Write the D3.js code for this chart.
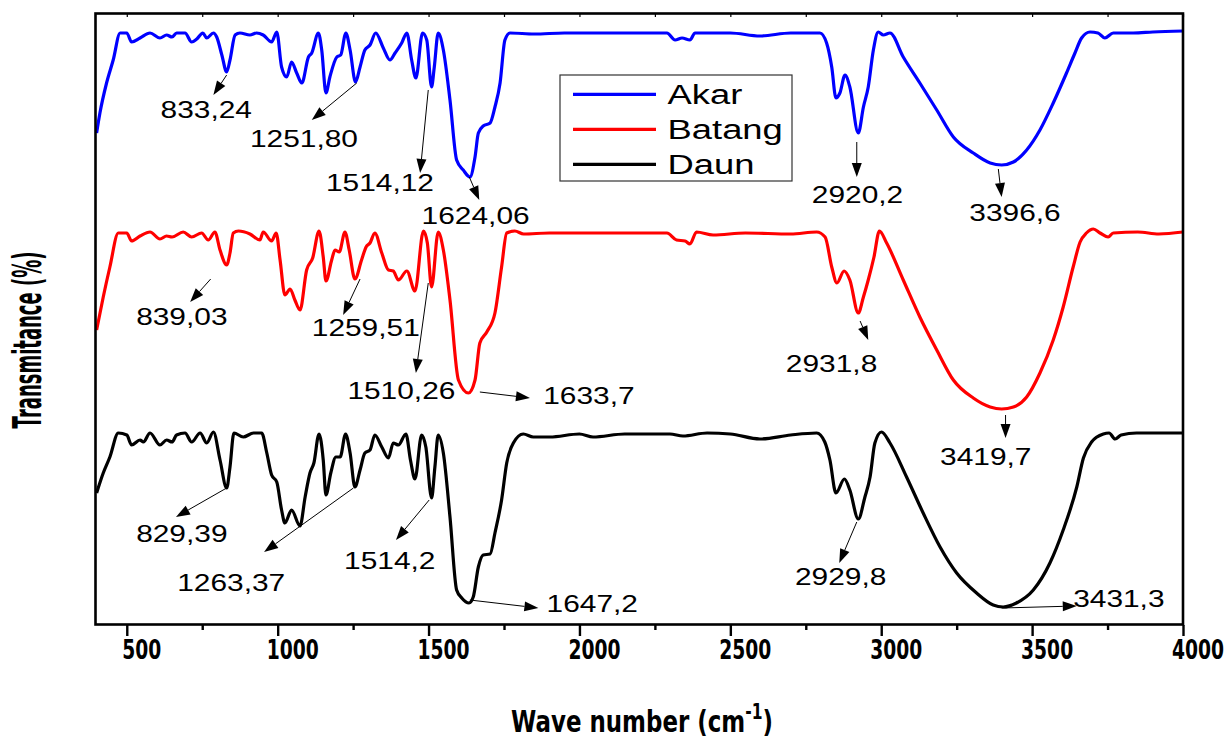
<!DOCTYPE html>
<html>
<head>
<meta charset="utf-8">
<script src="https://cdn.jsdelivr.net/npm/d3@7"></script>
<style>
  body { margin: 0; background: #fff; }
  svg { display: block; }
</style>
</head>
<body>
<script>
// spectra: [wave number, transmitance]
let akar = [[400,44],[411,54],[433,69],[455,80.5],[478,94],[500,94],[516,89.5],[544,91.5],[577,94],[610,91.5],[632,93],[650,92],[665,94],[693,94],[715,89.5],[732,91],[752,94],[765,91.5],[787,94],[798,92],[815,83],[831,74.5],[842,80.5],[859,93],[875,94],[908,93],[930,94],[952,93],[980,89.5],[997,94.5],[1013,77],[1030,72],[1046,79.5],[1063,74],[1080,69],[1102,82],[1113,84],[1135,94],[1146,85.5],[1160,64],[1173,72],[1196,82],[1209,83],[1226,94],[1240,85.5],[1258,69.5],[1273,77],[1289,85.5],[1306,88],[1325,94],[1350,86.5],[1372,80.5],[1389,84],[1411,89],[1428,94],[1444,80.5],[1458,71.5],[1480,94],[1494,90.5],[1510,67],[1519,77],[1532,94],[1549,85.5],[1571,60.5],[1593,30.5],[1615,25.5],[1637,22],[1654,32],[1665,44],[1681,47.5],[1704,49],[1720,57],[1737,69],[1753,90.5],[1770,94],[1850,93.5],[1950,94],[2100,94],[2290,94],[2317,90.5],[2340,91.5],[2366,90.5],[2383,94],[2500,94],[2598,92.5],[2700,94],[2797,94],[2819,89],[2836,77],[2850,61.5],[2863,64],[2880,73],[2896,67],[2924,44],[2941,57],[2957,67],[2974,85.5],[2990,94.5],[3007,93],[3029,94],[3073,82],[3128,69],[3184,55.5],[3239,42],[3305,34],[3361,29],[3399,28],[3438,29.5],[3482,35.5],[3526,45.5],[3570,59],[3614,74],[3642,84],[3664,91.5],[3692,94.5],[3718,94],[3741,91.5],[3769,94],[3835,94],[3900,94.5],[4000,95]];

let batang = [[400,46.5],[422,63],[444,78],[472,95],[500,95],[516,91],[544,93.5],[577,95.5],[610,92],[632,93.5],[650,93],[687,95.5],[715,93],[748,95],[770,91.5],[792,95.5],[809,86.5],[831,79],[842,85],[853,95],[870,96],[908,94.5],[941,91.5],[952,95.5],[980,91],[995,95],[1008,81.5],[1024,64],[1041,67],[1057,61.5],[1074,56.5],[1096,76.5],[1116,82.5],[1137,96],[1151,83],[1160,71],[1179,81.5],[1190,86.5],[1204,85.5],[1223,95.5],[1237,86.5],[1256,72],[1278,81.5],[1293,88],[1306,90],[1322,95],[1345,85],[1367,76.5],[1383,76],[1400,71.5],[1428,76],[1455,66],[1483,96],[1496,90],[1510,68],[1532,95.5],[1549,86.5],[1571,61.5],[1599,21.5],[1632,15],[1654,21.5],[1670,40],[1693,45.5],[1720,55],[1742,78],[1759,95],[1786,96],[1815,94.5],[1900,95],[2000,95],[2290,95],[2322,91.5],[2350,91],[2366,89.5],[2388,95.5],[2443,94],[2550,95],[2700,94.5],[2786,95.5],[2814,93],[2836,78],[2853,70],[2877,76],[2896,71.5],[2924,55],[2941,63],[2957,71.5],[2976,83],[2994,96],[3018,90],[3073,71.5],[3128,53],[3184,36.5],[3239,21.5],[3305,12.5],[3361,8],[3399,7],[3438,8],[3482,13],[3526,25],[3570,41.5],[3603,58],[3636,78],[3659,90.5],[3680,95],[3703,97],[3725,95],[3752,93],[3769,95],[3850,95.5],[3920,94.5],[4000,95.5]];

let daun = [[400,66],[422,76],[444,84],[472,96],[500,95],[516,90],[544,92.5],[555,91.5],[577,96],[610,90],[632,92.5],[650,91.5],[665,95],[693,96],[715,91.5],[743,96],[765,91],[787,96.5],[809,82.5],[831,68.5],[842,79],[855,96],[886,94],[920,96],[947,96],[964,86],[980,75],[997,71.5],[1013,57.5],[1024,51],[1046,57.5],[1074,49.5],[1091,64],[1107,76],[1120,81],[1137,95.5],[1151,82.5],[1160,65],[1176,76],[1193,84],[1207,84],[1225,95.5],[1240,86],[1256,69],[1273,77.5],[1289,86],[1306,87.5],[1322,95],[1345,89],[1367,83.5],[1383,91],[1400,90],[1425,95.5],[1440,82.5],[1455,73],[1477,95],[1491,89],[1510,63.5],[1521,79],[1532,95],[1549,86],[1571,54],[1593,17.5],[1610,13.5],[1634,11],[1648,14],[1665,29],[1681,35],[1704,35.5],[1720,46],[1742,62.5],[1759,81],[1781,91],[1814,95.5],[1847,94],[1902,94],[2000,95.5],[2045,94],[2150,95.5],[2300,95.5],[2343,94.5],[2423,96],[2500,95.5],[2598,93],[2700,95],[2786,96],[2813,91.5],[2830,82.5],[2850,66],[2878,73],[2896,67.5],[2924,53],[2946,64],[2963,74],[2979,91],[3001,96.5],[3029,91],[3084,74],[3139,56],[3195,39],[3250,26],[3316,16],[3371,10],[3404,9],[3448,11],[3504,17.5],[3559,31],[3603,47.5],[3648,69],[3670,83.5],[3697,91.5],[3736,95.5],[3755,96],[3775,93],[3795,95],[3846,96],[4000,96]];

let seriesNames = ["Akar", "Batang", "Daun"];
let seriesColors = ["#0000ff", "#ff0000", "#000000"];
let seriesOffsets = [202, 101, 0];

let majorTicks = [500, 1000, 1500, 2000, 2500, 3000, 3500, 4000];
let minorTicks = [750, 1250, 1750, 2250, 2750, 3250, 3750];

// peak labels: text, arrow start [w,y], arrow end [w,y], text start [w,y]
let peaks = [
  ["833,24",  [831,275],   [787,265],   [612,253.5]],
  ["1251,80", [1262,271],  [1113,252.5],[908,239]],
  ["1514,12", [1499,267.5],[1472,226],  [1160,217]],
  ["1624,06", [1635,224],  [1668,212.5],[1477,200.5]],
  ["2920,2",  [2919,241.5],[2919,224],  [2770,211]],
  ["3396,6",  [3388,228],  [3399,214],  [3292,202]],
  ["839,03",  [778,173],   [710,161.5], [531,150]],
  ["1259,51", [1273,173],  [1217,155],  [1113,144.5]],
  ["1510,26", [1499,171],  [1458,126],  [1231,113]],
  ["1633,7",  [1670,116.5],[1836,113.5],[1880,110.5]],
  ["2931,8",  [2930,152],  [2957,142.5],[2684,126.5]],
  ["3419,7",  [3412,105],  [3412,93.5], [3195,80]],
  ["829,39",  [831,68.5],  [663,54],    [531,41.5]],
  ["1263,37", [1251,68.5], [955,36.5],  [667,17]],
  ["1514,2",  [1502,62.5], [1392,42.5], [1220,28]],
  ["1647,2",  [1637,12.5], [1864,8.5],  [1891,6.5]],
  ["2929,8",  [2919,51.5], [2861,31],   [2714,20]],
  ["3431,3",  [3399,8.5],  [3648,9.5],  [3636,9]]
];

let svg = d3.select("body").append("svg")
    .attr("width", 1227)
    .attr("height", 742)
    .style("background-color", "white");

let x = d3.scaleLinear().domain([398, 4000]).range([96, 1183]);
let y = d3.scaleLinear().domain([0, 306.5]).range([625, 12]);

svg.append("defs").append("clipPath").attr("id", "plotclip")
  .append("rect").attr("x", 96).attr("y", 12).attr("width", 1087).attr("height", 613);

// spectra
let allSeries = [akar, batang, daun];
let plot = svg.append("g").attr("clip-path", "url(#plotclip)");
allSeries.forEach(function(s, i){
  let line = d3.line()
      .x(d => x(d[0]))
      .y(d => y(d[1] + seriesOffsets[i]))
      .curve(d3.curveMonotoneX);
  plot.append("path")
      .datum(s)
      .attr("d", line)
      .attr("fill", "none")
      .attr("stroke", seriesColors[i])
      .attr("stroke-width", 3.2)
      .attr("stroke-linejoin", "round");
});

// frame
svg.append("rect")
    .attr("x", 95.5).attr("y", 13.5)
    .attr("width", 1087.5).attr("height", 611)
    .attr("fill", "none")
    .attr("stroke", "black")
    .attr("stroke-width", 2.6);

// bottom axis
let xAxis = d3.axisBottom(x).tickValues(majorTicks).tickSize(11).tickFormat("");
let gx = svg.append("g").attr("transform", "translate(0,625)").call(xAxis);
gx.select(".domain").remove();
gx.selectAll(".tick line").attr("stroke-width", 2.4);

let xMinor = d3.axisBottom(x).tickValues(minorTicks).tickSize(5).tickFormat("");
let gxm = svg.append("g").attr("transform", "translate(0,625)").call(xMinor);
gxm.select(".domain").remove();
gxm.selectAll(".tick line").attr("stroke-width", 2.4);

// little inward ticks on top
let xTop = d3.axisBottom(x).tickValues(majorTicks.concat(minorTicks)).tickSize(3).tickFormat("");
let gt = svg.append("g").attr("transform", "translate(0,14)").call(xTop);
gt.select(".domain").remove();
gt.selectAll(".tick line").attr("stroke-width", 1.2);

svg.selectAll(".ticklabel").data(majorTicks).enter()
  .append("text")
    .attr("class", "ticklabel")
    .attr("transform", d => "translate(" + (x(d) + 15) + ",659) scale(0.72,1)")
    .attr("text-anchor", "middle")
    .style("font-family", "DejaVu Sans")
    .style("font-weight", "bold")
    .style("font-size", "26px")
    .text(d => d);

// axis titles
let xt = svg.append("text")
    .attr("transform", "translate(642,732) scale(0.74,1)")
    .attr("text-anchor", "middle")
    .style("font-family", "DejaVu Sans")
    .style("font-weight", "bold")
    .style("font-size", "31px");
xt.append("tspan").text("Wave number (cm");
xt.append("tspan").attr("dy", -13).style("font-size", "21px").text("-1");
xt.append("tspan").attr("dy", 13).text(")");

svg.append("text")
    .attr("transform", "translate(41,340) rotate(-90) scale(0.61,1.3)")
    .attr("text-anchor", "middle")
    .style("font-family", "DejaVu Sans")
    .style("font-weight", "bold")
    .style("font-size", "29.5px")
    .text("Transmitance (%)");

// legend
let legend = svg.append("g");
legend.append("rect")
    .attr("x", 560).attr("y", 75)
    .attr("width", 232).attr("height", 106)
    .attr("fill", "white")
    .attr("stroke", "#333")
    .attr("stroke-width", 1.2);
seriesNames.forEach(function(n, i){
  let ly = 94.3 + i * 35;
  legend.append("line")
      .attr("x1", 573).attr("x2", 656)
      .attr("y1", ly).attr("y2", ly)
      .attr("stroke", seriesColors[i])
      .attr("stroke-width", 3.2);
  legend.append("text")
      .attr("transform", "translate(667.5," + (ly + 9.5) + ") scale(1.3,1)")
      .style("font-family", "Liberation Sans, Arial, sans-serif")
      .style("font-size", "28px")
      .text(n);
});

// peak arrows and labels
let ann = svg.append("g");
peaks.forEach(function(p){
  let x1 = x(p[1][0]), y1 = y(p[1][1]);
  let x2 = x(p[2][0]), y2 = y(p[2][1]);
  let ang = Math.atan2(y2 - y1, x2 - x1);
  let len = 14, hw = 5;
  let bx = x2 - len * Math.cos(ang), by = y2 - len * Math.sin(ang);
  ann.append("line")
      .attr("x1", x1).attr("y1", y1)
      .attr("x2", bx).attr("y2", by)
      .attr("stroke", "black")
      .attr("stroke-width", 1);
  let pts = [
    [x2, y2],
    [bx + hw * Math.sin(ang), by - hw * Math.cos(ang)],
    [bx - hw * Math.sin(ang), by + hw * Math.cos(ang)]
  ];
  ann.append("polygon")
      .attr("points", pts.map(q => q.join(",")).join(" "))
      .attr("fill", "black");
  ann.append("text")
      .attr("transform", "translate(" + x(p[3][0]) + "," + y(p[3][1]) + ") scale(1.3,1)")
      .style("font-family", "Liberation Sans, Arial, sans-serif")
      .style("font-size", "23px")
      .text(p[0]);
});
</script>
</body>
</html>
